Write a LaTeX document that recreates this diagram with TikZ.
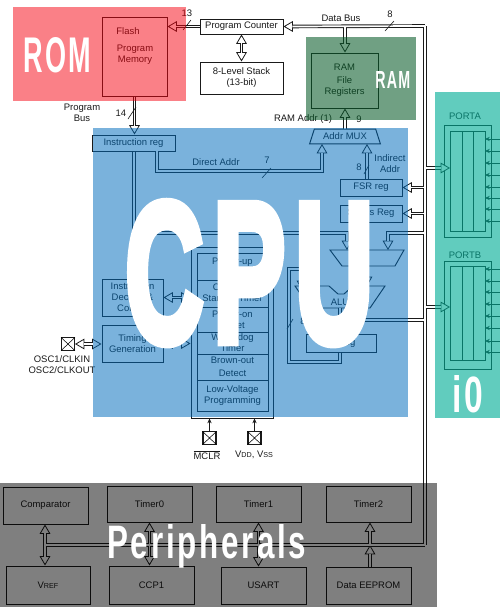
\documentclass[tikz,border=0pt]{standalone}
\usepackage{graphicx}
\usepackage{fontspec}
\setmainfont{Liberation Sans}
\newfontfamily\ttlfont[LetterSpace=9]{Liberation Sans}
\newfontfamily\ttlfat[LetterSpace=9,BoldFeatures={FakeBold=5}]{Liberation Sans}
\usetikzlibrary{arrows.meta,shapes.geometric}
\definecolor{inkc}{HTML}{1A1A1A}
\newcommand{\bx}[6]{\node[boxn,minimum width={(#4-#2)*0.75pt},minimum height={(#5-#3)*0.75pt}] (#1) at ({(#2+#4)/2},{(#3+#5)/2}) {#6};}
\newcommand{\ttl}[6]{\node[anchor=base west,inner sep=0pt,text=white] (#1) at (#2,#3) {\resizebox{#4pt}{#5pt}{\ttlfont\bfseries #6}};}
\newcommand{\xpin}[3]{\node[boxn,minimum width=9.75pt,minimum height=9.2pt,line width=.8pt] (#1) at (#2,#3) {};
  \draw[line width=.4pt] (#1.north west)--(#1.south east) (#1.north east)--(#1.south west);}
\tikzset{
  boxn/.style={draw=inkc,line width=.75pt,inner sep=0pt,align=center,font=\fontsize{7.1}{8.3}\selectfont,text=inkc},
  lab/.style={inner sep=0pt,align=center,font=\fontsize{7.1}{8.3}\selectfont,text=inkc},
  thinl/.style={draw=inkc,line width=.45pt},
  pin/.style={draw=inkc,line width=.55pt,-{Stealth[length=3.6pt,width=3.2pt]}}
}
% bus connectors, drawn twice: dark outline, then white core
\newcommand{\allbus}{
  \draw[busto] (pc.west) -- (flash.east |- pc.west);
  \draw[busboth] (pc.south) -- (stack.north);
  \draw[busto] (j2) -- (pc.east);
  \draw[busto] (jd) -- (ramreg.north -| jd);
  \draw[busplain] (j2) -- (j3);
  \draw[busto] (flash.south) -- (ir.north -| flash.south);
  \draw[busto] (irb) -- (dir1) -- (dir2) -- (dir3);
  \draw[busto] (mux.north) -- (ramreg.south -| mux.north);
  \draw[busto] (fsr.north -| fsrx) -- (muxb);
  \draw[busto] (j4) -- (fsr.east);
  \draw[busto] (j5) -- (status.east);
  \draw[busto] (j6) -- (porta1);
  \draw[busto] (j7) -- (portb1);
  \draw[busto] (j8) -- (m2r) -- (m2rt);
  \draw[busto] (ir.south -| irx) -- (irc) -- (m2l) -- (m2lt);
  \draw[busto] (irc) -- (dec.north -| irx);
  \draw[busboth] (dec.east) -- (pwr.west |- dec.east);
  \draw[busboth] (tim.east) -- (pwr.west |- tim.east);
  \draw[busboth] (osc.east) -- (tim.west |- osc.east);
  \draw[busto] (alub) -- (w.north -| alub);
  \draw[busplain] (aluj) -- (j9);
  \draw[busto] (w.south -| alub) -- (lp1) -- (lp2) -- (lp3) -- (lp3b) -- (lp4);
  \draw[busto] (m2o) -- (m2ob);
  \draw[busplain] (j3) -- (j10);
  \draw[busboth] (cmp.south -| j10) -- (vref.north -| j10);
  \draw[busboth] (t0.south) -- (t0.south |- ccp.north);
  \draw[busboth] (t1.south) -- (t1.south |- usart.north);
  \draw[busto] (j12) -- (t2.south -| j12);
  \draw[busto] (ee.north -| j12) -- (j12);
}
\begin{document}
\begin{tikzpicture}[x=0.75pt,y=-0.75pt]
\useasboundingbox (0,0) rectangle (500,615);
% blocks
\bx{flash}{102}{17}{167}{96}{}
\node[lab] (flasht) at (128,31) {Flash};
\node[lab] (flashm) at (135,55) {Program\\Memory};
\bx{pc}{200}{19}{283}{34}{Program Counter}
\bx{stack}{200}{62}{283}{94}{8-Level Stack\\(13-bit)}
\bx{ramreg}{311}{53}{378}{108}{RAM\\[1.5pt]File\\Registers}
\node[boxn,trapezium,trapezium stretches=true,trapezium angle=64,minimum width=53.2pt,minimum height=11.2pt] (mux) at (345,136.5) {Addr MUX};
\bx{ir}{92}{135}{175}{151}{Instruction reg}
\bx{fsr}{340}{179}{402}{196}{FSR reg}
\bx{status}{340}{205}{402}{222}{Status Reg}
\bx{dec}{102}{279}{163}{316}{Instruction\\Decode \&\\Control}
\bx{tim}{102}{325}{163}{362}{Timing\\Generation}
\bx{pwr}{191}{247}{273}{418}{}
\bx{pwri}{197}{253}{268}{411}{}
\bx{pw1}{197}{253}{268}{280}{Power-up\\Timer}
\bx{pw2}{197}{280}{268}{307}{Oscillator\\Start-up Timer}
\bx{pw3}{197}{307}{268}{332}{Power-on\\Reset}
\bx{pw4}{197}{332}{268}{354}{Watchdog\\Timer}
\bx{pw5}{197}{354}{268}{380}{Brown-out\\[1.5pt]Detect}
\bx{pw6}{197}{380}{268}{411}{Low-Voltage\\Programming}
\bx{w}{306}{334}{376}{352}{W Reg}
\xpin{osc}{68}{344}
\xpin{mclr}{209.5}{438}
\xpin{vdd}{254.5}{438}
\node[lab] (osct) at (62,365) {OSC1/CLKIN\\OSC2/CLKOUT};
\node[lab] (mclrt) at (207,455) {$\overline{\mbox{MCLR}}$};
\node[lab] (vddt) at (254,455) {V{\fontsize{5.4}{6}\selectfont DD}, V{\fontsize{5.4}{6}\selectfont SS}};
\draw[pin] (mclr.north) -- (mclr.north |- pwr.south);
\draw[pin] (vdd.north) -- (vdd.north |- pwr.south);
% second mux and ALU
\draw[thinl,line width=.7pt] (330,250) -- (404,250) -- (395,266) -- (342,266) -- cycle;
\draw[thinl,line width=.7pt] (295,286) -- (329,286) -- (338,294) -- (344,294) -- (353,286) -- (385,286) -- (370,308) -- (310,308) -- cycle;
\node[lab] (alu) at (340,302) {ALU};
% ports
\bx{paout}{444}{125}{491}{237}{}
\bx{pain}{450}{131}{485}{231}{}
\bx{pbout}{444}{261}{491}{369}{}
\bx{pbin}{450}{266}{485}{360}{}
\foreach \xx in {462,473} {\draw[thinl,line width=.7pt] (\xx,131) -- (\xx,231) (\xx,266) -- (\xx,360);}
\node[lab] (pat) at (465,116) {PORTA};
\node[lab] (pbt) at (465,255) {PORTB};
\foreach \yy in {139,151,163,175,187,198,209,221,269,281,292,304,316,328,341,352}
  {\coordinate (pe) at (500,\yy); \coordinate (pi) at (485,\yy); \draw[pin] (pe) -- (pi);}
% peripherals
\bx{cmp}{3}{487}{88}{524}{Comparator}
\bx{t0}{107}{486}{192}{522}{Timer0}
\bx{t1}{216}{486}{301}{522}{Timer1}
\bx{t2}{326}{486}{411}{522}{Timer2}
\bx{vref}{6}{566}{90}{604}{V{\fontsize{5.4}{6}\selectfont REF}}
\bx{ccp}{109}{566}{194}{604}{CCP1}
\bx{usart}{221}{567}{306}{604}{USART}
\bx{ee}{326}{567}{411}{604}{Data EEPROM}
% labels
\node[lab] (pb) at (82,113) {Program\\Bus};
\node[lab] (n14) at (121,113) {14};
\node[lab] (n13) at (187,13) {13};
\node[lab] (dbt) at (341,18) {Data Bus};
\node[lab] (n8a) at (390,14) {8};
\node[lab] (rat) at (303,119) {RAM Addr (1)};
\node[lab] (n9) at (359,119) {9};
\node[lab] (dat) at (216,162) {Direct Addr};
\node[lab] (n7) at (267,160) {7};
\node[lab] (iat) at (390,164) {Indirect\\Addr};
\node[lab] (n8b) at (359,167) {8};
\node[lab] (n8c) at (303,321) {8};
% bus waypoints
\coordinate (j2) at (425,26);
\coordinate (jd) at (345,26); \coordinate (j3) at (425,545);
\coordinate (irb) at (157,151); \coordinate (dir1) at (157,171); \coordinate (dir2) at (322,171); \coordinate (dir3) at (322,144);
\coordinate (fsrx) at (367,179); \coordinate (muxb) at (367,144);
\coordinate (j4) at (425,187.5); \coordinate (j5) at (425,213.5);
\coordinate (j6) at (425,168); \coordinate (porta1) at (450,168);
\coordinate (j7) at (425,307); \coordinate (portb1) at (450,307);
\coordinate (j8) at (425,233); \coordinate (m2r) at (388,233); \coordinate (m2rt) at (388,250);
\coordinate (irx) at (134,151); \coordinate (irc) at (134,233); \coordinate (m2l) at (347,233); \coordinate (m2lt) at (347,250);
\coordinate (alub) at (340,308); \coordinate (aluj) at (340,320); \coordinate (j9) at (425,320);
\coordinate (lp1) at (340,362); \coordinate (lp2) at (289,362); \coordinate (lp3) at (289,269); \coordinate (lp3b) at (302,269); \coordinate (lp4) at (302,290);
\coordinate (m2o) at (367,266); \coordinate (m2ob) at (367,286);
\coordinate (j10) at (45,545);
\coordinate (j12) at (370,545);
% dark outlines
\begin{scope}[
  busplain/.style={draw=inkc,line width=2.7pt},
  busto/.style={draw=inkc,line width=2.7pt,-{Triangle[length=7pt,width=8pt,line width=.6pt,fill=white,color=inkc]}},
  busboth/.style={draw=inkc,line width=2.7pt,{Triangle[length=7pt,width=8pt,line width=.6pt,fill=white,color=inkc]}-{Triangle[length=7pt,width=8pt,line width=.6pt,fill=white,color=inkc]}}]
\allbus
\end{scope}
% white cores
\begin{scope}[
  busplain/.style={draw=white,line width=1.3pt},
  busto/.style={draw=white,line width=1.3pt,shorten >=6.6pt},
  busboth/.style={draw=white,line width=1.3pt,shorten >=6.6pt,shorten <=6.6pt}]
\allbus
\end{scope}
% bus width ticks
\draw[thinl] (183,30) -- (191,20) (385,31) -- (394,21) (128,119) -- (136,107) (262,178) -- (271,168) (364,174) -- (369,165) (287,329) -- (293,319);
% coloured overlays
\fill[fill={rgb,255:red,246;green,1;blue,15},fill opacity=.5] (13,7) rectangle (186,101);
\fill[fill={rgb,255:red,0;green,108;blue,188},fill opacity=.52] (93,128) rectangle (408,417);
\fill[fill={rgb,255:red,8;green,92;blue,42},fill opacity=.58] (306,37) rectangle (416,120);
\fill[fill={rgb,255:red,0;green,172;blue,150},fill opacity=.62] (435,92) rectangle (500,418);
\fill[fill=black,fill opacity=.5] (0,483) rectangle (437,607);
% titles
\ttl{trom}{23}{72}{51}{26.25}{ROM}
\ttl{tram}{375}{88}{26.25}{12.75}{RAM}
\node[anchor=base west,inner sep=0pt,text=white] (tcpu) at (125,341.5) {\resizebox{186pt}{104pt}{\ttlfat\bfseries CPU}};
\ttl{tio}{452}{412}{23.25}{27.75}{i0}
\ttl{tper}{107}{558}{149.25}{25.5}{Peripherals}
\end{tikzpicture}
\end{document}
